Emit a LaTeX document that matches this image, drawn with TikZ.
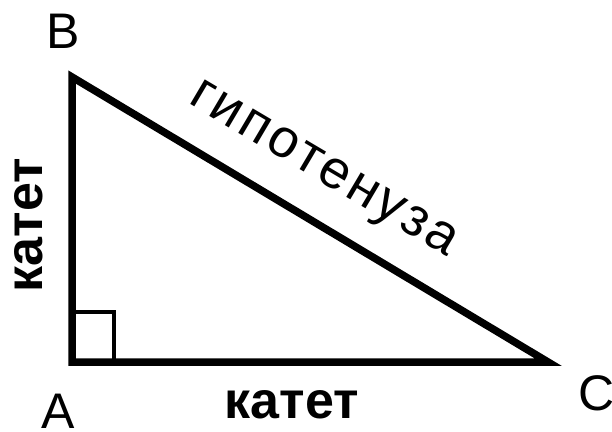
\documentclass[tikz,border=0pt]{standalone}
\usepackage{fontspec}
\setmainfont{Liberation Sans}
\begin{document}
\begin{tikzpicture}[x=1pt,y=-1pt,
  side/.style={line width=7.5pt,line join=miter},
  vlabel/.style={font=\fontsize{50}{50}\selectfont, inner sep=0pt, anchor=base},
  word/.style={font=\fontsize{52}{52}\selectfont\bfseries, inner sep=0pt},
  hypword/.style={font=\fontsize{54}{54}\selectfont\addfontfeature{LetterSpace=6}, inner sep=0pt},
  rightmark/.style={line width=4.5pt}]
\useasboundingbox (0,0) rectangle (612,431);
\coordinate (A) at (72,362);
\coordinate (B) at (72,77);
\coordinate (C) at (548,362);
\coordinate (S1) at (114,362);
\coordinate (S2) at (114,312);
\coordinate (S3) at (72,312);
\draw[rightmark] (S1) -- (S2) -- (S3);
\draw[side] (B) -- (A) -- (C) -- cycle;
\node[vlabel] (lB) at (63,48) {B};
\node[vlabel] (lA) at (58,428) {A};
\node[vlabel] (lC) at (597,410) {C};
\node[word] (k1) at (292,405) {катет};
\node[word,rotate=90] (k2) at (29,225) {катет};
\node[hypword,rotate=-30.6] (h) at (322,172) {гипотенуза};
\end{tikzpicture}
\end{document}
